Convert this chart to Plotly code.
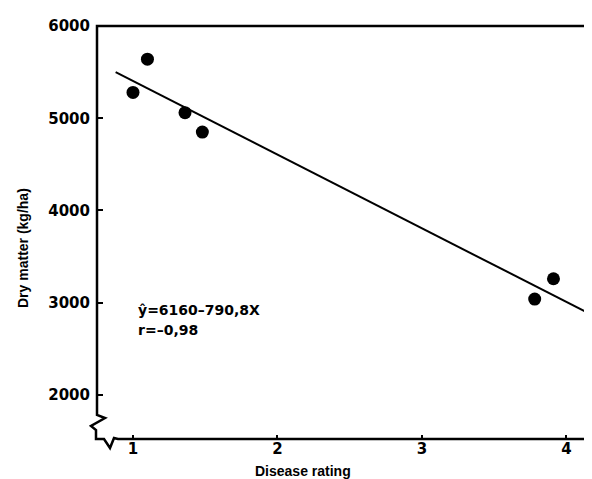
import plotly.graph_objects as go

# Data
disease_rating = [1.0, 1.10, 1.36, 1.48, 3.78, 3.91]
dry_matter = [5280, 5640, 5060, 4850, 3040, 3260]
fit_x = [0.88, 4.135]
fit_y = [5500, 2900]
x_ticks = [1, 2, 3, 4]
y_ticks = [2000, 3000, 4000, 5000, 6000]
eq_text = "ŷ=6160–790,8X"
r_text = "r=–0,98"
x_title = "Disease rating"
y_title = "Dry matter (kg/ha)"

W, H = 592, 479
L, R, T, B = 89, 0, 18, 47
PW, PH = W - L - R, H - T - B


def P(X, Y):
    return (X - L) / PW, (H - B - Y) / PH


def path(pts):
    s = ""
    for i, (X, Y) in enumerate(pts):
        px, py = P(X, Y)
        s += ("M" if i == 0 else "L") + f"{px:.5f},{py:.5f} "
    return s.strip()


frame_pts = [(592, 18), (89, 18), (89, 407), (97, 410), (83, 418), (88, 422),
             (88, 431), (96, 431), (102, 440), (106, 430), (110, 431), (592, 431)]

fig = go.Figure()
fig.add_trace(go.Scatter(x=fit_x, y=fit_y, mode="lines",
                         line=dict(color="black", width=2), hoverinfo="skip"))
fig.add_trace(go.Scatter(x=disease_rating, y=dry_matter, mode="markers",
                         marker=dict(color="black", size=13)))

fig.update_layout(
    width=W, height=H,
    margin=dict(l=L, r=R, t=T, b=B),
    paper_bgcolor="white", plot_bgcolor="white",
    showlegend=False,
    xaxis=dict(range=[0.7509, 4.232], tickvals=x_ticks, ticktext=[str(v) for v in x_ticks],
               showgrid=False, zeroline=False, showline=False,
               ticks="inside", ticklen=5, tickwidth=2, tickcolor="black",
               ticklabelstandoff=-2,
               tickfont=dict(family="DejaVu Sans", size=15, color="black", weight="bold")),
    yaxis=dict(range=[1512, 6000], tickvals=y_ticks, ticktext=[str(v) for v in y_ticks],
               showgrid=False, zeroline=False, showline=False,
               ticks="inside", ticklen=6, tickwidth=2, tickcolor="black",
               ticklabelstandoff=6,
               tickfont=dict(family="DejaVu Sans", size=15, color="black", weight="bold")),
    shapes=[dict(type="path", xref="paper", yref="paper", path=path(frame_pts),
                 line=dict(color="black", width=2.5), fillcolor="rgba(0,0,0,0)")],
)

ex, ey1 = P(128, 302)
_, ey2 = P(128, 322)
tx, ty = P(295, 463)
yx, yy = P(15, 240)
anno_font = dict(family="DejaVu Sans", size=14, color="black", weight="bold")
title_font = dict(family="Liberation Sans", size=14, color="black", weight="bold")
fig.add_annotation(text=eq_text, xref="paper", yref="paper", x=ex, y=ey1,
                   xanchor="left", yanchor="middle", showarrow=False, font=anno_font)
fig.add_annotation(text=r_text, xref="paper", yref="paper", x=ex, y=ey2,
                   xanchor="left", yanchor="middle", showarrow=False, font=anno_font)
fig.add_annotation(text=x_title, xref="paper", yref="paper", x=tx, y=ty,
                   xanchor="center", yanchor="middle", showarrow=False, font=title_font)
fig.add_annotation(text=y_title, xref="paper", yref="paper", x=yx, y=yy,
                   xanchor="center", yanchor="middle", textangle=-90,
                   showarrow=False, font=title_font)

fig.write_html("out.html")
